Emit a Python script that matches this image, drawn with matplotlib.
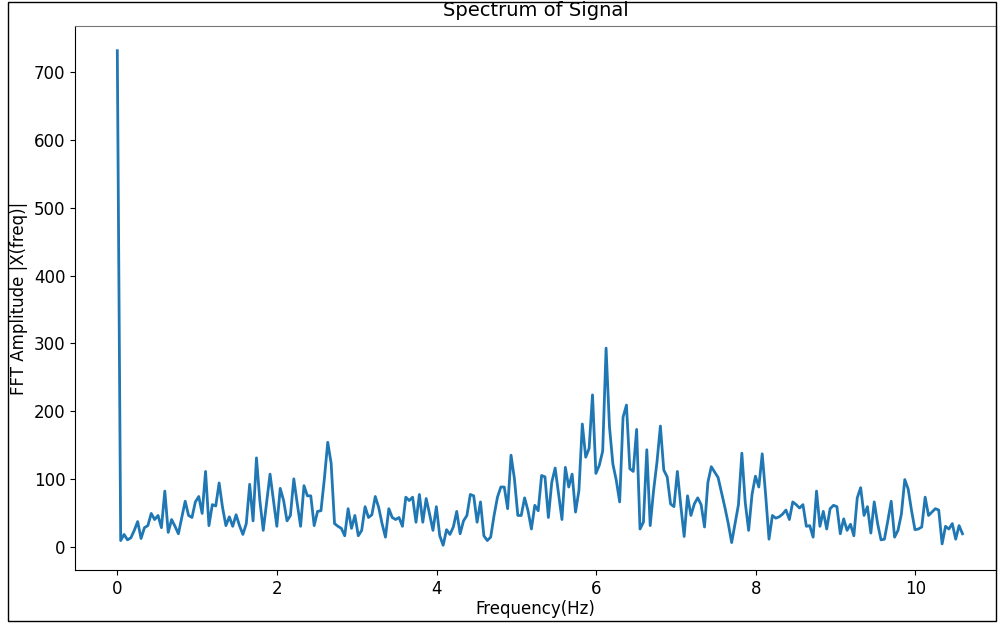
import numpy as np
from matplotlib import pyplot as plt
from matplotlib.patches import Rectangle

# FFT magnitude of the recorded signal, one value per frequency bin
amplitude = [732, 9, 18, 10, 13, 24, 37, 12, 28, 31,
             49, 40, 46, 28, 82, 21, 40, 30, 19, 43,
             67, 46, 43, 66, 74, 49, 111, 31, 62, 60,
             94, 58, 31, 44, 30, 47, 31, 18, 34, 92,
             38, 131, 68, 24, 65, 107, 68, 30, 86, 68,
             38, 46, 100, 64, 30, 90, 75, 75, 31, 52,
             53, 100, 154, 123, 34, 30, 27, 16, 56, 27,
             46, 16, 24, 59, 43, 47, 74, 58, 34, 14,
             56, 43, 40, 43, 30, 73, 68, 73, 36, 77,
             36, 71, 48, 24, 59, 16, 2, 25, 18, 29,
             52, 19, 38, 46, 77, 75, 36, 66, 16, 9,
             14, 46, 73, 88, 88, 56, 135, 100, 46, 46,
             72, 53, 26, 61, 53, 105, 103, 43, 95, 116,
             78, 40, 117, 88, 107, 51, 83, 181, 132, 145,
             224, 108, 120, 141, 293, 177, 122, 98, 66, 191,
             209, 115, 111, 173, 26, 36, 143, 31, 83, 125,
             178, 113, 103, 63, 59, 111, 61, 15, 75, 46,
             63, 72, 62, 29, 95, 118, 110, 102, 80, 58,
             34, 6, 34, 62, 138, 65, 24, 77, 104, 88,
             137, 77, 11, 46, 42, 44, 48, 54, 40, 66,
             62, 57, 62, 30, 31, 14, 82, 30, 52, 26,
             56, 61, 59, 19, 41, 24, 33, 16, 72, 87,
             46, 59, 20, 66, 34, 10, 11, 38, 67, 14,
             24, 48, 99, 85, 53, 25, 26, 29, 73, 46,
             51, 56, 54, 4, 30, 26, 34, 11, 31, 19]

f_max = 10.59  # highest bin shown (Hz)
freq = np.linspace(0, f_max, len(amplitude))

fig = plt.figure(figsize=(9.98, 6.26), dpi=100)
ax = fig.add_axes([75 / 998, 56 / 626, (996 - 75) / 998, (570 - 26) / 626])

ax.plot(freq, amplitude, color='#1f77b4', linewidth=2)
ax.set_xlim(-0.53, 11.01)
ax.set_xticks([0, 2, 4, 6, 8, 10])
ax.set_yticks(range(0, 800, 100))
ax.tick_params(labelsize=12)
ax.spines['top'].set_color('#777777')

ax.set_title("Spectrum of Signal", fontsize=14, pad=7)
ax.set_xlabel("Frequency(Hz)", fontsize=12, labelpad=2)
ax.set_ylabel("FFT Amplitude |X(freq)|", fontsize=12, labelpad=4)

# thin black frame round the whole figure
fig.add_artist(Rectangle((8 / 998, 5 / 626), 988 / 998, 619 / 626,
                         transform=fig.transFigure, fill=False,
                         edgecolor='black', linewidth=1))

plt.savefig("out.png", dpi=100)
